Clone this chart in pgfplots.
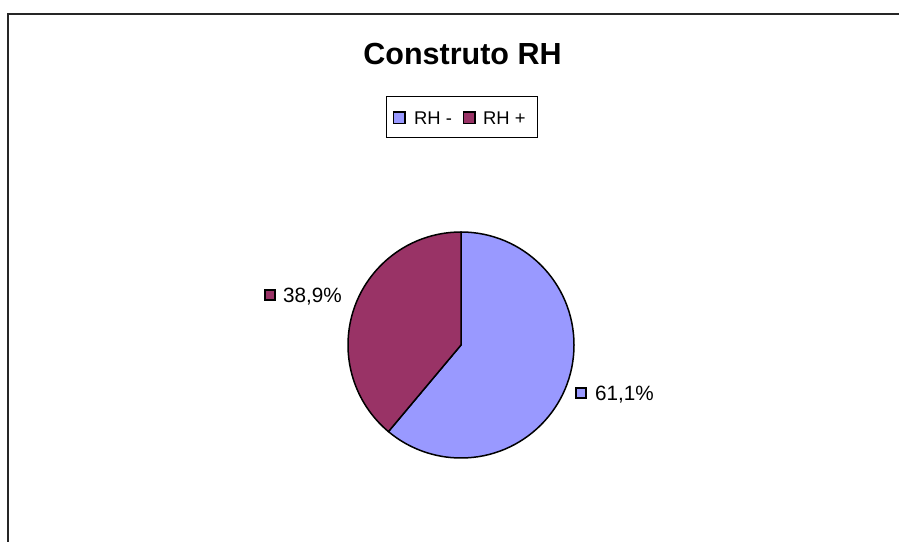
\documentclass[border=0pt]{standalone}
\usepackage{pgfplots}
\pgfplotsset{compat=1.18}
\usepackage{fontspec}
\setmainfont{Liberation Sans}
\definecolor{rhminus}{HTML}{9999FF}
\definecolor{rhplus}{HTML}{993366}
% data (percent)
\def\valA{61.1}% RH -
\def\valB{38.9}% RH +
\begin{document}
\begin{tikzpicture}[x=1pt,y=1pt]
\useasboundingbox (0,0) rectangle (899,541);
\begin{scope}
\clip (0,0) rectangle (899,541);
\draw[line width=2pt,black!85] (8,-20) -- (8,527) -- (920,527);
\end{scope}
\begin{axis}[at={(0,0)},anchor=south west,x=1pt,y=1pt,
  xmin=0,xmax=899,ymin=0,ymax=541,hide axis,clip=false]
\pgfmathsetmacro{\angA}{90-3.6*\valA}
% wedges
\fill[rhminus,draw=black,line width=1.5pt,line join=round]
  (axis cs:461,196) -- (axis cs:461,309) arc[start angle=90,end angle=\angA,radius=113pt] -- cycle;
\fill[rhplus,draw=black,line width=1.5pt,line join=round]
  (axis cs:461,196) -- (axis cs:461,309) arc[start angle=90,end angle=\angA+360,radius=113pt] -- cycle;
% title
\node[anchor=base,font=\fontsize{30.5}{34}\selectfont\bfseries] at (axis cs:462.5,476) {Construto RH};
% legend
\draw[black,line width=1pt,fill=white] (axis cs:386,444) rectangle (axis cs:537,403);
\draw[black,line width=1.3pt,fill=rhminus] (axis cs:393.5,429) rectangle (axis cs:405,417.5);
\node[anchor=base west,inner sep=0pt,font=\fontsize{18.4}{22}\selectfont] at (axis cs:414,416) {RH -};
\draw[black,line width=1.3pt,fill=rhplus] (axis cs:463.5,429) rectangle (axis cs:475,417.5);
\node[anchor=base west,inner sep=0pt,font=\fontsize{18.4}{22}\selectfont] at (axis cs:483,416) {RH +};
% data labels
\draw[black,line width=1.2pt,fill=rhplus] (axis cs:265,251) rectangle (axis cs:275,241);
\node[anchor=base west,inner sep=0pt,font=\fontsize{20.7}{24}\selectfont] at (axis cs:283,238) {38,9\%};
\draw[black,line width=1.2pt,fill=rhminus] (axis cs:576,153) rectangle (axis cs:586,143);
\node[anchor=base west,inner sep=0pt,font=\fontsize{20.7}{24}\selectfont] at (axis cs:595,140) {61,1\%};
\end{axis}
\end{tikzpicture}
\end{document}
